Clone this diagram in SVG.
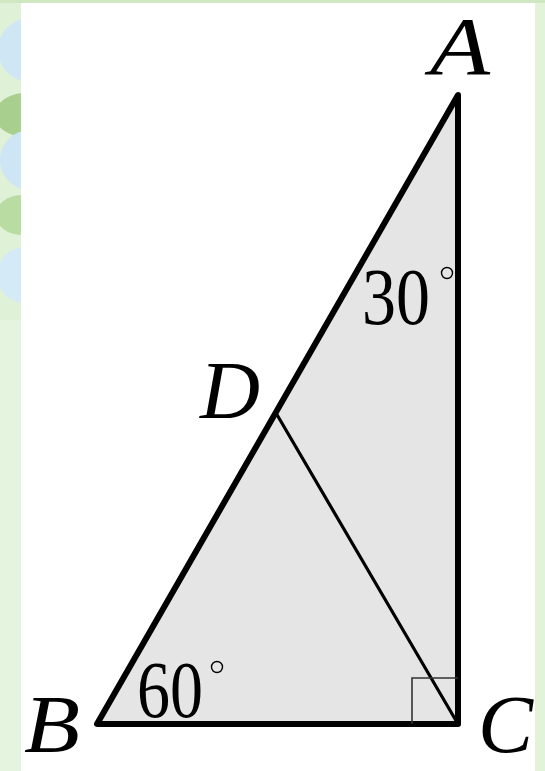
<svg xmlns="http://www.w3.org/2000/svg" width="545" height="771" viewBox="0 0 545 771">
<defs>
<style>
.lbl{font-family:"Liberation Serif","Times New Roman",serif;font-style:italic;font-size:82px;fill:#000}
.num{font-family:"Liberation Serif","Times New Roman",serif;font-size:80px;fill:#000}
.edge{stroke:#000;stroke-linecap:round;stroke-linejoin:round;fill:none}
</style>
<clipPath id="leftStrip"><rect x="0" y="0" width="21" height="771"/></clipPath>
</defs>
<rect x="0" y="0" width="545" height="771" fill="#e3f3da"/>
<g clip-path="url(#leftStrip)">
<rect x="0" y="0" width="21" height="771" fill="#dff1d6"/>
<circle cx="30" cy="50" r="32" fill="#cfe6f4"/>
<ellipse cx="25" cy="115" rx="30" ry="22" fill="#a9cf8e"/>
<circle cx="30" cy="160" r="30" fill="#cde5f5"/>
<ellipse cx="22" cy="215" rx="26" ry="20" fill="#b9dca2"/>
<circle cx="25" cy="275" r="28" fill="#d4eaf6"/>
<rect x="0" y="320" width="21" height="451" fill="#e5f4de"/>
</g>
<rect x="0" y="0" width="545" height="3" fill="#cfe8c2"/>
<rect x="21" y="3" width="514" height="768" fill="#ffffff"/>
<g id="triangle">
<polygon points="458,95 97,724 458,724" fill="#e5e5e5"/>
</g>
<g id="connectors">
<path class="edge" d="M458,95 L97,724 L458,724 Z" stroke-width="6"/>
<line class="edge" x1="276" y1="413" x2="458" y2="724" stroke-width="3.2"/>
<polyline points="412,724 412,678 458,678" fill="none" stroke="#333" stroke-width="1.6"/>
</g>
<g id="A"><text class="lbl" x="430" y="74" textLength="60" lengthAdjust="spacingAndGlyphs">A</text></g>
<g id="B"><text class="lbl" x="24" y="752" textLength="56" lengthAdjust="spacingAndGlyphs">B</text></g>
<g id="C"><text class="lbl" x="478" y="752" textLength="55" lengthAdjust="spacingAndGlyphs">C</text></g>
<g id="D"><text class="lbl" x="200" y="418" textLength="60" lengthAdjust="spacingAndGlyphs">D</text></g>
<g id="angle30"><text class="num" x="362" y="324" textLength="68" lengthAdjust="spacingAndGlyphs">30</text><circle cx="447" cy="273" r="5.5" fill="none" stroke="#000" stroke-width="1.4"/></g>
<g id="angle60"><text class="num" x="137" y="717" textLength="66" lengthAdjust="spacingAndGlyphs">60</text><circle cx="217" cy="667" r="5.5" fill="none" stroke="#000" stroke-width="1.4"/></g>
</svg>
